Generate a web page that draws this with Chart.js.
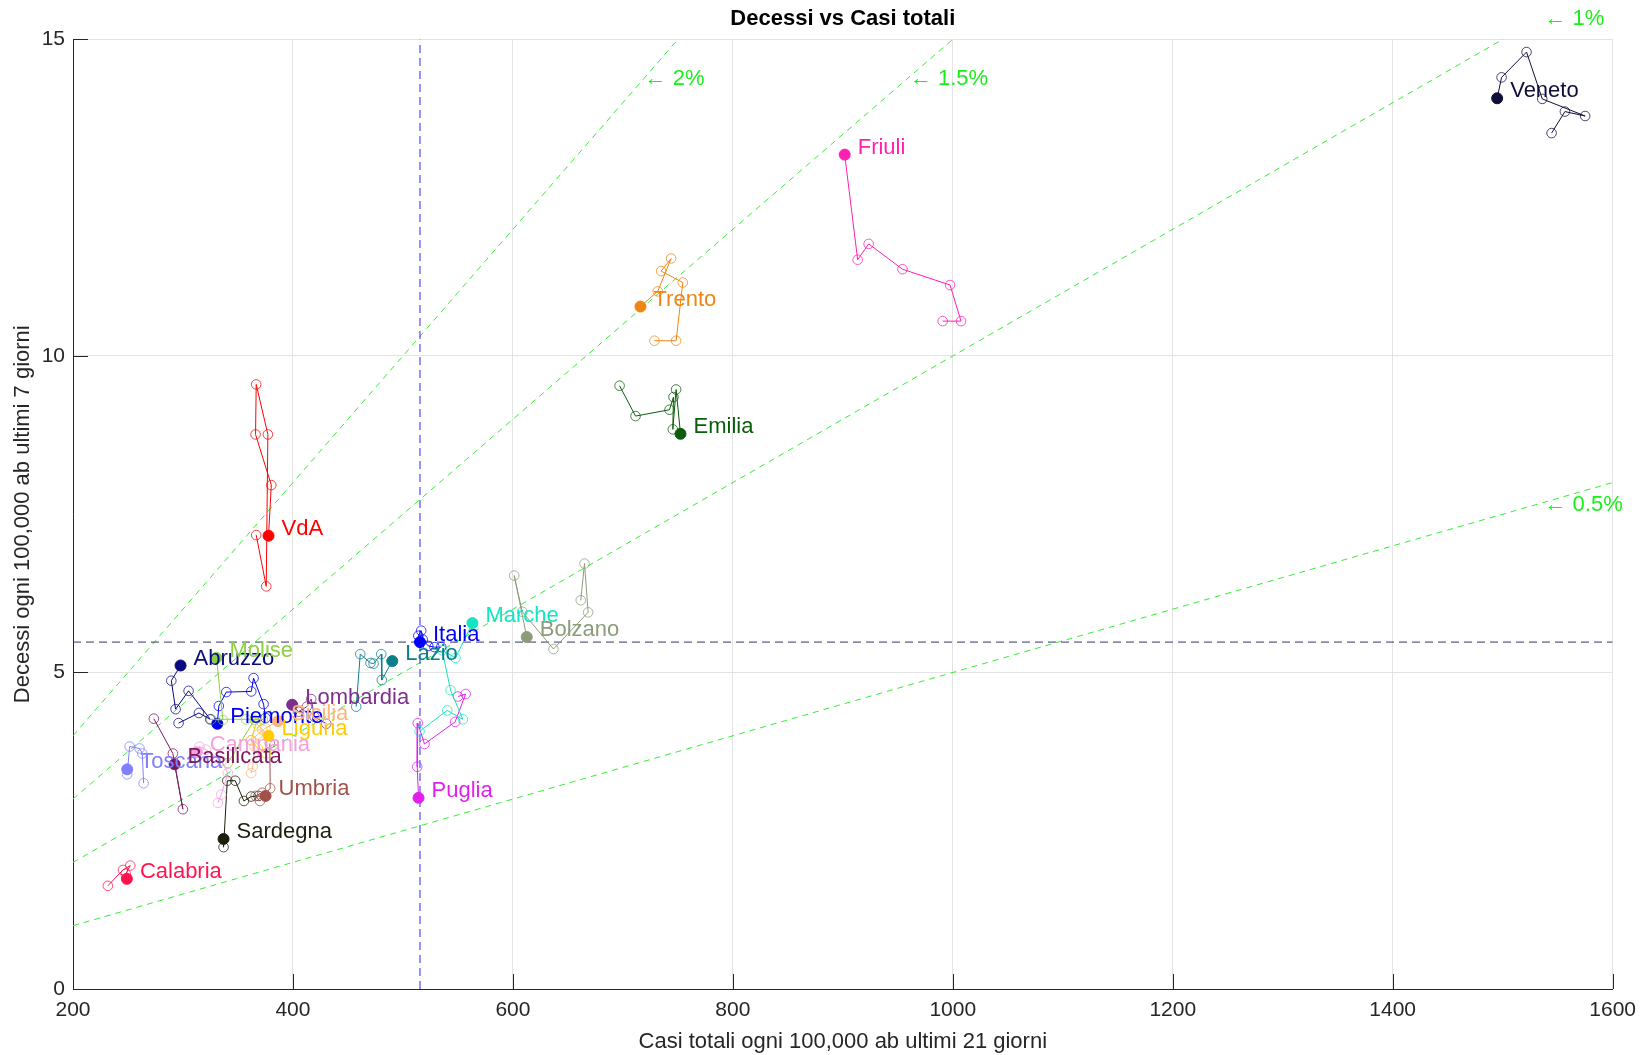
<!DOCTYPE html>
<html>
<head>
<meta charset="utf-8">
<script src="https://cdn.jsdelivr.net/npm/chart.js@4.4.0/dist/chart.umd.min.js"></script>
<style>
  html, body { margin: 0; padding: 0; background: #fff; }
</style>
</head>
<body>
<canvas id="chart" width="1645" height="1055"></canvas>
<script>
// casi totali (x) e decessi (y) ogni 100,000 ab, ultimo punto = oggi
const xVeneto = [1544.5, 1556.6, 1575, 1536, 1521.7, 1499, 1495];
const yVeneto = [13.52, 13.86, 13.79, 14.06, 14.80, 14.40, 14.07];
const xFriuli = [990.8, 1007.5, 997.5, 954.2, 923.5, 913.5, 901.7];
const yFriuli = [10.55, 10.55, 11.12, 11.37, 11.77, 11.52, 13.18];
const xTrento = [728.7, 748.4, 754.5, 734.8, 743.9, 731.7, 716];
const yTrento = [10.24, 10.24, 11.16, 11.34, 11.54, 11.02, 10.78];
const xEmilia = [697, 711.5, 742.4, 746, 745.4, 748.4, 752.4];
const yEmilia = [9.53, 9.05, 9.15, 9.35, 8.84, 9.47, 8.77];
const xVdA = [366.6, 375.7, 377.2, 366.6, 366, 380.3, 377.8];
const yVdA = [7.17, 6.36, 8.76, 9.55, 8.76, 7.96, 7.16];
const xBolzano = [661.7, 665.1, 668.4, 636.9, 608.5, 601.2, 612.6];
const yBolzano = [6.14, 6.72, 5.95, 5.37, 5.96, 6.53, 5.56];
const xMarche = [515.1, 540.3, 554.5, 543.3, 535.7, 547.8, 563.2];
const yMarche = [4.07, 4.40, 4.26, 4.72, 5.35, 5.23, 5.78];
const xLazio = [457.5, 461.2, 470.5, 473.3, 480.3, 480.8, 490.3];
const yLazio = [4.46, 5.29, 5.15, 5.14, 5.29, 4.88, 5.18];
const xPuglia = [550, 557, 547.5, 519.6, 513.5, 513, 514.2];
const yPuglia = [4.62, 4.66, 4.22, 3.87, 4.20, 3.51, 3.02];
const xAbruzzo = [296, 314.5, 324.8, 305.1, 293.3, 289.4, 297.8];
const yAbruzzo = [4.20, 4.36, 4.26, 4.71, 4.42, 4.87, 5.11];
const xPiemonte = [375.1, 373.3, 364.2, 362.1, 339.4, 332.6, 331.2];
const yPiemonte = [4.28, 4.50, 4.91, 4.70, 4.69, 4.47, 4.19];
const xMolise = [340.8, 365, 372.6, 357.5, 325.7, 336.3, 330.5];
const yMolise = [3.57, 4.25, 4.26, 4.26, 4.26, 4.25, 5.23];
const xLombardia = [430.3, 419.6, 416.6, 412.6, 405, 399.3];
const yLombardia = [4.19, 4.30, 4.58, 4.46, 4.38, 4.49];
const xSicilia = [362, 363.5, 365, 362, 368, 375, 386.3];
const ySicilia = [3.41, 3.51, 3.83, 3.93, 4.02, 4.12, 4.23];
const xLiguria = [375.7, 368, 362, 366.6, 372, 377.8];
const yLiguria = [3.72, 3.80, 3.93, 4.20, 4.10, 4.00];
const xCampania = [331.7, 334.8, 340.8, 335, 321, 315, 312.5];
const yCampania = [2.94, 3.07, 3.41, 3.60, 3.78, 3.83, 3.74];
const xToscana = [264.2, 263, 260.5, 251.5, 249.3, 249.3];
const yToscana = [3.25, 3.72, 3.80, 3.83, 3.39, 3.47];
const xBasilicata = [273.5, 290.8, 299.9, 292.4];
const yBasilicata = [4.27, 3.72, 2.84, 3.55];
const xUmbria = [379, 379.3, 370, 366, 372, 375.1];
const yUmbria = [3.88, 3.17, 2.97, 3.05, 3.10, 3.05];
const xSardegna = [368.7, 362, 355.4, 347.5, 340.3, 336.9, 336.9];
const ySardegna = [3.05, 3.04, 2.97, 3.29, 3.29, 2.24, 2.37];
const xCalabria = [231.7, 245.4, 252.1, 248, 249];
const yCalabria = [1.63, 1.88, 1.95, 1.82, 1.74];
const xItalia = [534.8, 528.7, 523, 518, 516.6, 514, 515.5];
const yItalia = [5.40, 5.40, 5.42, 5.52, 5.66, 5.58, 5.48];

// letalità di riferimento (%)
const soglie = [2, 1.5, 1, 0.5];
const xTicks = [200, 400, 600, 800, 1000, 1200, 1400, 1600];
const yTicks = [0, 5, 10, 15];

const regioni = [
  ['Veneto', xVeneto, yVeneto, '#0e0e38'],
  ['Friuli', xFriuli, yFriuli, '#ff1fb0'],
  ['Trento', xTrento, yTrento, '#ef8512'],
  ['Emilia', xEmilia, yEmilia, '#0b5c0b'],
  ['VdA', xVdA, yVdA, '#ff0000'],
  ['Bolzano', xBolzano, yBolzano, '#8c9c78'],
  ['Marche', xMarche, yMarche, '#12e6c0'],
  ['Lazio', xLazio, yLazio, '#0a7f8c'],
  ['Puglia', xPuglia, yPuglia, '#e21ef0'],
  ['Abruzzo', xAbruzzo, yAbruzzo, '#0a0a80'],
  ['Molise', xMolise, yMolise, '#8ed044'],
  ['Lombardia', xLombardia, yLombardia, '#7e2f8e'],
  ['Piemonte', xPiemonte, yPiemonte, '#0000f0'],
  ['Sicilia', xSicilia, ySicilia, '#ffb47c'],
  ['Liguria', xLiguria, yLiguria, '#ffcc00'],
  ['Campania', xCampania, yCampania, '#f5a0dc'],
  ['Toscana', xToscana, yToscana, '#8080ff'],
  ['Basilicata', xBasilicata, yBasilicata, '#7a1860'],
  ['Umbria', xUmbria, yUmbria, '#a0524a'],
  ['Sardegna', xSardegna, ySardegna, '#1e1e0c'],
  ['Calabria', xCalabria, yCalabria, '#ff1450'],
  ['Italia', xItalia, yItalia, '#0000ff']
];

const FONT = '"Liberation Sans", Arial, sans-serif';

function fade(hex, a) {
  const n = parseInt(hex.slice(1), 16);
  return 'rgba(' + (n >> 16) + ',' + ((n >> 8) & 255) + ',' + (n & 255) + ',' + a + ')';
}

const datasets = [];

soglie.forEach(p => {
  datasets.push({
    data: [{x: 200, y: 200 * p / 100}, {x: 1600, y: 1600 * p / 100}],
    showLine: true, borderColor: '#33ee33', borderWidth: 1, borderDash: [6, 5],
    pointRadius: 0, order: 5
  });
});

const xIt = xItalia[xItalia.length - 1];
const yIt = yItalia[yItalia.length - 1];
datasets.push({
  data: [{x: xIt, y: 0}, {x: xIt, y: 15}],
  showLine: true, borderColor: '#2a2aff', borderWidth: 1, borderDash: [8, 5], pointRadius: 0, order: 4
});
datasets.push({
  data: [{x: 200, y: yIt}, {x: 1600, y: yIt}],
  showLine: true, borderColor: '#34346e', borderWidth: 1, borderDash: [8, 5], pointRadius: 0, order: 4
});

regioni.forEach(([nome, xs, ys, col]) => {
  const n = xs.length;
  datasets.push({
    label: nome,
    data: xs.map((x, i) => ({x: x, y: ys[i]})),
    showLine: true,
    borderColor: col,
    borderWidth: 1,
    pointRadius: xs.map((x, i) => i === n - 1 ? 5.5 : 4.8),
    pointBorderWidth: 1,
    pointBorderColor: xs.map((x, i) => i === n - 1 ? col : fade(col, 0.75)),
    pointBackgroundColor: xs.map((x, i) => i === n - 1 ? col : 'rgba(0,0,0,0)'),
    order: 1
  });
});

const extras = {
  id: 'extras',
  afterDatasetsDraw(chart) {
    const ctx = chart.ctx;
    const xs = chart.scales.x, ys = chart.scales.y;
    const a = chart.chartArea;
    ctx.save();
    // tick interni
    ctx.strokeStyle = '#262626';
    ctx.lineWidth = 1;
    ctx.beginPath();
    xTicks.forEach(t => {
      const px = Math.round(xs.getPixelForValue(t)) + 0.5;
      ctx.moveTo(px, a.bottom); ctx.lineTo(px, a.bottom - 15);
    });
    yTicks.forEach(t => {
      const py = Math.round(ys.getPixelForValue(t)) + 0.5;
      ctx.moveTo(a.left, py); ctx.lineTo(a.left + 15, py);
    });
    ctx.stroke();

    // etichette regioni
    ctx.font = '22px ' + FONT;
    ctx.textBaseline = 'middle';
    ctx.textAlign = 'left';
    regioni.forEach(([nome, xv, yv, col]) => {
      const i = xv.length - 1;
      ctx.fillStyle = col;
      ctx.fillText(nome, xs.getPixelForValue(xv[i]) + 13, ys.getPixelForValue(yv[i]) - 7);
    });

    // etichette letalità
    ctx.fillStyle = '#19ee19';
    ctx.font = '22px ' + FONT;
    const pos = [[719.7, 14.37], [961, 14.37], [1538, 15.33], [1538, 7.65]];
    soglie.forEach((p, k) => {
      ctx.fillText('\u2190 ' + p + '%', xs.getPixelForValue(pos[k][0]), ys.getPixelForValue(pos[k][1]));
    });
    ctx.restore();
  }
};

new Chart(document.getElementById('chart'), {
  type: 'scatter',
  data: { datasets: datasets },
  plugins: [extras],
  options: {
    responsive: false,
    animation: false,
    devicePixelRatio: 1,
    layout: { padding: { left: 0, right: 31, top: 0, bottom: 0 } },
    plugins: {
      legend: { display: false },
      tooltip: { enabled: false },
      title: {
        display: true,
        fullSize: false,
        text: 'Decessi vs Casi totali',
        color: '#000',
        font: { family: FONT, size: 22, weight: 'bold' },
        padding: { top: 6, bottom: 7 }
      }
    },
    scales: {
      x: {
        type: 'linear', min: 200, max: 1600,
        afterBuildTicks(s) { s.ticks = xTicks.map(v => ({value: v})); },
        afterFit(s) { s.height = 66; },
        grid: { color: '#e3e3e3', drawTicks: false },
        border: { color: '#262626' },
        ticks: { color: '#262626', padding: 9, callback: v => String(v), font: { family: FONT, size: 21 } },
        title: { display: true, text: 'Casi totali ogni 100,000 ab ultimi 21 giorni', color: '#262626',
          padding: { top: 0, bottom: 0 }, font: { family: FONT, size: 22 } }
      },
      y: {
        type: 'linear', min: 0, max: 15,
        afterBuildTicks(s) { s.ticks = yTicks.map(v => ({value: v})); },
        afterFit(s) { s.width = 73; },
        grid: { color: '#e3e3e3', drawTicks: false },
        border: { color: '#262626' },
        ticks: { color: '#262626', padding: 8, callback: v => String(v), font: { family: FONT, size: 21 } },
        title: { display: true, text: 'Decessi ogni 100,000 ab ultimi 7 giorni', color: '#262626',
          padding: { top: 10, bottom: 0 }, font: { family: FONT, size: 22 } }
      }
    }
  }
});
</script>
</body>
</html>
